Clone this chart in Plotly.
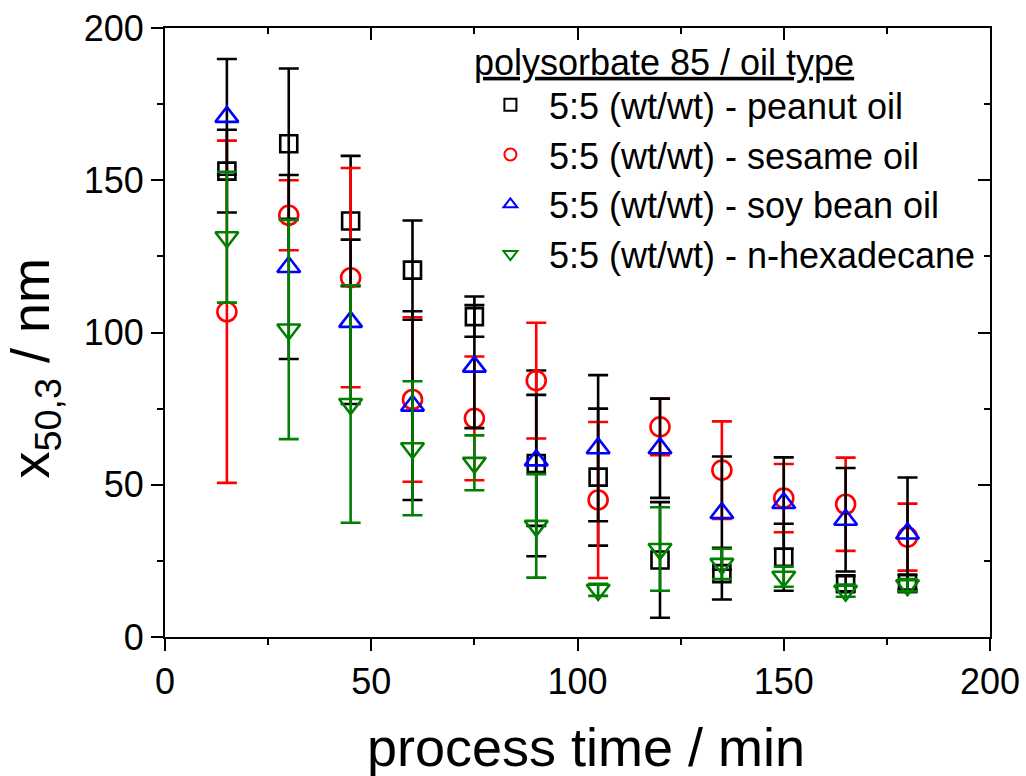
import plotly.graph_objects as go

# process time (min)
time_min = [15, 30, 45, 60, 75, 90, 105, 120, 135, 150, 165, 180]

peanut = [153, 162, 136.6, 120.5, 105.2, 57, 52.5, 25.3, 20.8, 26.2, 17.5, 17.6]
peanut_err = [13.6, 24.7, 21.4, 16.3, 6.6, 30.5, 22.5, 19, 8.5, 11, 2.5, 2.8]

sesame = [106.8, 138.5, 118, 78, 71.8, 84.2, 45, 69, 54.8, 45.6, 43.6, 32.8]
sesame_err = [56.2, 11.5, 36, 27, 20.3, 19, 25.6, 9.3, 16, 11.2, 15.3, 11]

soy = [170.8, 121.5, 103.5, 76, 88.8, 58, 62, 62, 40.7, 44, 38.5, 34]
soy_err = [19, 30.2, 27, 31, 20.2, 21.5, 24, 16.3, 18.6, 15, 17, 18.4]

hexadecane = [131.3, 101, 76.5, 62, 57.2, 36.5, 15.5, 28.9, 24, 19.8, 15.2, 17]
hexadecane_err = [21.5, 36, 39, 22, 9, 17, 2, 13.7, 5, 3.3, 2, 2]

series_names = [
    "5:5 (wt/wt) - peanut oil",
    "5:5 (wt/wt) - sesame oil",
    "5:5 (wt/wt) - soy bean oil",
    "5:5 (wt/wt) - n-hexadecane",
]
legend_title = "polysorbate 85 / oil type"
x_title = "process time / min"
y_title = "x<sub>50,3</sub> / nm"

FONT = "Liberation Sans, Arial, sans-serif"

specs = [
    (series_names[0], peanut, peanut_err, "square-open", 17, "black", "black"),
    (series_names[1], sesame, sesame_err, "circle-open", 19, "red", "red"),
    (series_names[2], soy, soy_err, "triangle-up-open", 20, "blue", "black"),
    (series_names[3], hexadecane, hexadecane_err, "triangle-down-open", 20, "green", "green"),
]

fig = go.Figure()
for i, (name, y, e, sym, sz, col, ecol) in enumerate(specs):
    fig.add_trace(go.Scatter(
        x=time_min, y=y, name=name, mode="markers",
        legendgroup=f"g{i}",
        marker=dict(symbol=sym, size=sz, color=col, line=dict(width=2.6, color=col)),
        error_y=dict(type="data", array=e, visible=True, color=ecol,
                     thickness=2.6, width=10),
    ))

# invisible helper trace so that the mirrored (top/right) frame axes are drawn
fig.add_trace(go.Scatter(
    x=time_min, y=peanut, xaxis="x2", yaxis="y2", mode="markers",
    marker=dict(opacity=0), showlegend=False, hoverinfo="skip",
))

axis_common = dict(
    showline=True, linecolor="black", linewidth=2,
    showgrid=False, zeroline=False, automargin=False,
    tickcolor="black", tickwidth=2,
)

fig.update_layout(
    width=1026, height=776,
    margin=dict(l=165, r=36, t=28, b=139),
    paper_bgcolor="white", plot_bgcolor="white",
    font=dict(family=FONT, color="black"),
    showlegend=True,
    xaxis=dict(range=[0, 200], dtick=50, ticks="outside", ticklen=12,
               tickfont=dict(size=36, family=FONT),
               minor=dict(dtick=25, ticks="outside", ticklen=6, tickwidth=2, tickcolor="black"),
               **axis_common),
    yaxis=dict(range=[0, 200], dtick=50, ticks="outside", ticklen=12,
               tickfont=dict(size=36, family=FONT),
               minor=dict(dtick=25, ticks="outside", ticklen=6, tickwidth=2, tickcolor="black"),
               **axis_common),
    xaxis2=dict(range=[0, 200], dtick=50, overlaying="x", side="top", anchor="y",
                ticks="inside", ticklen=12, showticklabels=False,
                minor=dict(dtick=25, ticks="inside", ticklen=6, tickwidth=2, tickcolor="black"),
                **axis_common),
    yaxis2=dict(range=[0, 200], dtick=50, overlaying="y", side="right", anchor="x",
                ticks="inside", ticklen=12, showticklabels=False,
                minor=dict(dtick=25, ticks="inside", ticklen=6, tickwidth=2, tickcolor="black"),
                **axis_common),
    legend=dict(
        x=0.372, y=1.0, xanchor="left", yanchor="top",
        bgcolor="rgba(0,0,0,0)",
        font=dict(size=36, family=FONT),
        title=dict(text=f"<u>{legend_title}</u>", font=dict(size=36, family=FONT)),
        tracegroupgap=0,
        itemwidth=67,
        itemsizing="constant",
    ),
    annotations=[
        dict(text=x_title, xref="paper", yref="paper", x=0.51, y=-0.1806,
             xanchor="center", yanchor="middle", showarrow=False,
             font=dict(size=54, family=FONT)),
        dict(text=y_title, xref="paper", yref="paper", x=-0.1588, y=0.4425,
             xanchor="center", yanchor="middle", textangle=-90, showarrow=False,
             font=dict(size=54, family=FONT)),
    ],
)

fig.write_html("out.html")
